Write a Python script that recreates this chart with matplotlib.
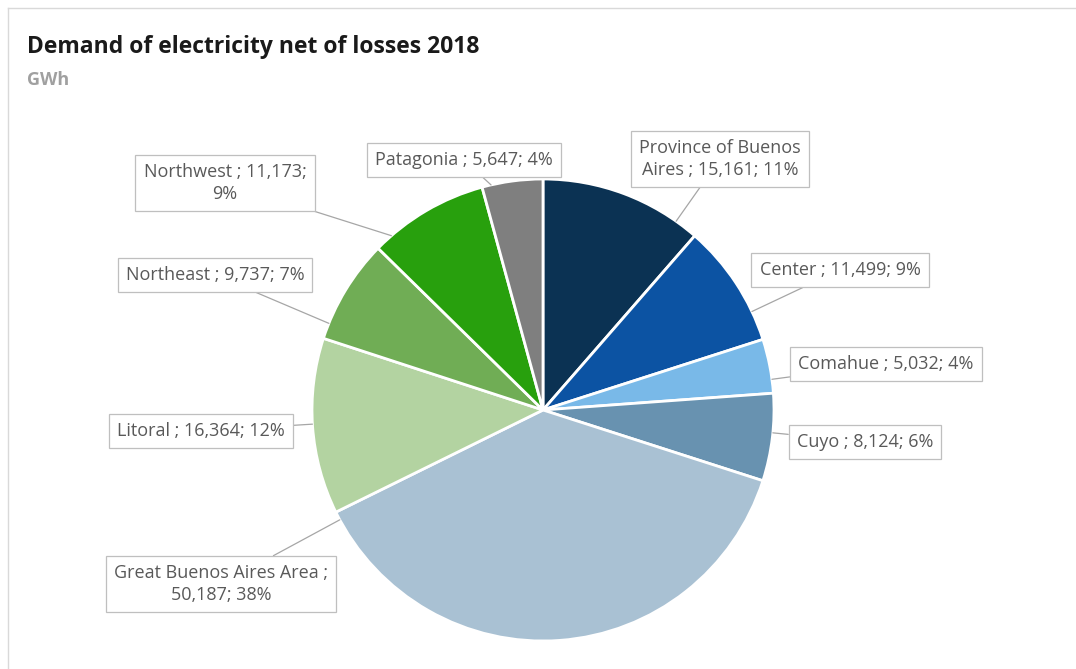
import matplotlib.pyplot as plt
import numpy as np
from matplotlib.lines import Line2D

regions = ['Province of Buenos Aires', 'Center', 'Comahue', 'Cuyo',
           'Great Buenos Aires Area', 'Litoral', 'Northeast', 'Northwest',
           'Patagonia']
demand = [15161, 11499, 5032, 8124, 50187, 16364, 9737, 11173, 5647]
shares = [11, 9, 4, 6, 38, 12, 7, 9, 4]
colors = ['#0b3253', '#0c53a3', '#79b9e8', '#6892b0', '#a9c1d3',
          '#b3d3a1', '#70ad55', '#28a00d', '#7f7f7f']

# label box centres in pixels (x, y from top)
label_px = [(720, 159), (840, 270), (886, 364), (865, 442), (221, 584),
            (201, 431), (215, 275), (225, 183), (464, 160)]

W, H = 1076, 669
cx, cy, r = 543, 410, 231

plt.rcParams['font.family'] = ['Open Sans', 'DejaVu Sans']
fig = plt.figure(figsize=(W / 100, H / 100), dpi=100)
ax = fig.add_axes([(cx - r) / W, (H - cy - r) / H, 2 * r / W, 2 * r / H])

wedges, _ = ax.pie(demand, colors=colors, startangle=90, counterclock=False,
                   radius=1.0, wedgeprops=dict(edgecolor='white', linewidth=2))
ax.set_xlim(-1, 1)
ax.set_ylim(-1, 1)
ax.set_aspect('equal')
ax.axis('off')


def label_text(i):
    val = f'{demand[i]:,}'
    pct = f'{shares[i]}%'
    if i == 0:
        return f'Province of Buenos\nAires ; {val}; {pct}'
    if i == 4:
        return f'Great Buenos Aires Area ;\n{val}; {pct}'
    if i == 7:
        return f'Northwest ; {val};\n{pct}'
    return f'{regions[i]} ; {val}; {pct}'


for i, w in enumerate(wedges):
    px, py = label_px[i]
    pos = ((px - cx) / r, (cy - py) / r)
    # point the leader at the arc, as close to the label as the wedge allows
    lo, hi = sorted((w.theta1, w.theta2))
    ang = np.degrees(np.arctan2(pos[1], pos[0]))
    while ang < lo:
        ang += 360
    while ang > hi + 360:
        ang -= 360
    if ang > hi:
        mid = (lo + hi) / 2
        ang = mid + np.clip(ang - mid, -(hi - lo) / 2 * 0.7, (hi - lo) / 2 * 0.7)
        if ang > hi:
            ang = (lo + hi) / 2
    a = np.deg2rad(ang)
    tip = (1.0 * np.cos(a), 1.0 * np.sin(a))
    ax.annotate(label_text(i), xy=tip, xytext=pos, ha='center', va='center',
                fontsize=13, color='#595959', linespacing=1.25,
                bbox=dict(boxstyle='square,pad=0.45', fc='white', ec='#bfbfbf', lw=0.9),
                arrowprops=dict(arrowstyle='-', color='#a6a6a6', lw=0.9,
                                shrinkA=0, shrinkB=0),
                annotation_clip=False)

fig.text(27 / W, 1 - 47 / H, 'Demand of electricity net of losses 2018',
         fontsize=16.5, fontweight='bold', color='#1a1a1a', va='center')
fig.text(27 / W, 1 - 80 / H, 'GWh', fontsize=13, fontweight='bold',
         color='#a0a0a0', va='center')

# chart frame
fig.add_artist(Line2D([8 / W, 1], [1 - 8 / H, 1 - 8 / H], color='#d9d9d9', lw=1))
fig.add_artist(Line2D([8 / W, 8 / W], [0, 1 - 8 / H], color='#d9d9d9', lw=1))

fig.savefig('out.png', dpi=100)
